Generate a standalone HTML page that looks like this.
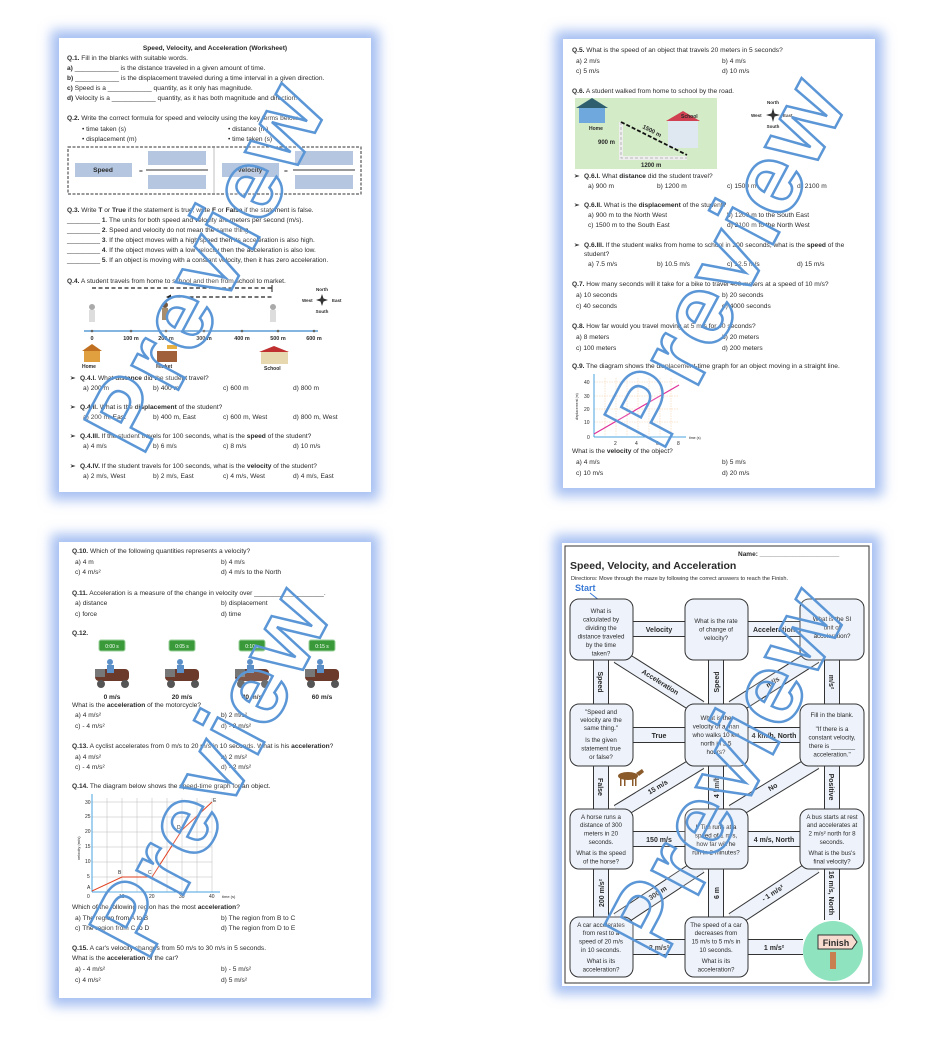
<!DOCTYPE html>
<html><head><meta charset="utf-8"><style>
html,body{margin:0;padding:0;background:#fff;}
svg{display:block;}
text{font-family:"Liberation Sans",sans-serif;fill:#2a2a2a;}
.t{font-size:6.6px;}
.b{font-weight:bold;}
.m{font-size:6.2px;text-anchor:middle;}
.ml{font-size:7px;font-weight:bold;text-anchor:middle;}
.wm{font-family:"Liberation Sans",sans-serif;font-weight:bold;font-size:100px;fill:rgba(255,255,255,0.15);stroke:#5b96d6;stroke-width:2.5px;letter-spacing:3px;text-anchor:middle;}
</style></head><body>
<svg width="938" height="1038" viewBox="0 0 938 1038" xmlns="http://www.w3.org/2000/svg">
<defs><filter id="g" x="-20%" y="-20%" width="140%" height="140%"><feGaussianBlur stdDeviation="6"/></filter></defs>
<rect x="51" y="30" width="328" height="470" fill="#a6bff2" filter="url(#g)"/>
<rect x="555" y="31" width="328" height="465" fill="#a6bff2" filter="url(#g)"/>
<rect x="51" y="534" width="328" height="472" fill="#a6bff2" filter="url(#g)"/>
<rect x="554" y="535" width="326" height="459" fill="#a6bff2" filter="url(#g)"/>
<rect x="59" y="38" width="312" height="454" fill="#fff"/>
<rect x="563" y="39" width="312" height="449" fill="#fff"/>
<rect x="59" y="542" width="312" height="456" fill="#fff"/>
<rect x="562" y="543" width="310" height="443" fill="#fff"/>

<!-- PAGE 1 -->
<text x="215" y="50" class="t b" text-anchor="middle">Speed, Velocity, and Acceleration (Worksheet)</text>
<text x="67" y="60" class="t"><tspan class="b">Q.1.</tspan> Fill in the blanks with suitable words.</text>
<text x="67" y="70" class="t"><tspan class="b">a)</tspan> ____________ is the distance traveled in a given amount of time.</text>
<text x="67" y="80" class="t"><tspan class="b">b)</tspan> ____________ is the displacement traveled during a time interval in a given direction.</text>
<text x="67" y="90" class="t"><tspan class="b">c)</tspan> Speed is a ____________ quantity, as it only has magnitude.</text>
<text x="67" y="100" class="t"><tspan class="b">d)</tspan> Velocity is a ____________ quantity, as it has both magnitude and direction.</text>
<text x="67" y="120" class="t"><tspan class="b">Q.2.</tspan>  Write the correct formula for speed and velocity using the key terms below.</text>
<text x="82" y="131" class="t">•   time taken (s)</text><text x="228" y="131" class="t">•   distance (m)</text>
<text x="82" y="141" class="t">•   displacement (m)</text><text x="228" y="141" class="t">•   time taken (s)</text>
<rect x="68" y="147" width="293" height="47" fill="none" stroke="#333" stroke-dasharray="3,1.5"/>
<line x1="214" y1="147" x2="214" y2="194" stroke="#999" stroke-width="0.6"/>
<rect x="75" y="163" width="57" height="14" fill="#b4c6e0"/><text x="103" y="172" class="t b" text-anchor="middle">Speed</text>
<text x="139" y="173" class="t">=</text>
<rect x="148" y="151" width="58" height="14" fill="#b4c6e0"/><line x1="146" y1="170" x2="208" y2="170" stroke="#333"/><rect x="148" y="175" width="58" height="14" fill="#b4c6e0"/>
<rect x="222" y="163" width="57" height="14" fill="#b4c6e0"/><text x="250" y="172" class="t b" text-anchor="middle">Velocity</text>
<text x="284" y="173" class="t">=</text>
<rect x="295" y="151" width="58" height="14" fill="#b4c6e0"/><line x1="293" y1="170" x2="355" y2="170" stroke="#333"/><rect x="295" y="175" width="58" height="14" fill="#b4c6e0"/>
<text x="67" y="212" class="t"><tspan class="b">Q.3.</tspan> Write <tspan class="b">T</tspan> or <tspan class="b">True</tspan> if the statement is true; write <tspan class="b">F</tspan> or <tspan class="b">False</tspan> if the statement is false.</text>
<text x="67" y="222" class="t">_________ <tspan class="b">1</tspan>. The units for both speed and velocity are meters per second (m/s).</text>
<text x="67" y="232" class="t">_________ <tspan class="b">2</tspan>. Speed and velocity do not mean the same thing.</text>
<text x="67" y="242" class="t">_________ <tspan class="b">3</tspan>. If the object moves with a high speed then its acceleration is also high.</text>
<text x="67" y="252" class="t">_________ <tspan class="b">4</tspan>. If the object moves with a low velocity then the acceleration is also low.</text>
<text x="67" y="262" class="t">_________ <tspan class="b">5</tspan>. If an object is moving with a constant velocity, then it has zero acceleration.</text>
<text x="67" y="283" class="t"><tspan class="b">Q.4.</tspan> A student travels from home to school and then from school to market.</text>
<line x1="92" y1="288" x2="272" y2="288" stroke="#222" stroke-width="1.3" stroke-dasharray="4,2.5"/>
<line x1="272" y1="285" x2="272" y2="292" stroke="#222"/>
<line x1="170" y1="297" x2="272" y2="297" stroke="#222" stroke-width="1.3" stroke-dasharray="4,2.5"/>
<path d="M166 297 l5 -2.5 v5z" fill="#222"/>
<line x1="84" y1="331" x2="318" y2="331" stroke="#5b9bd5" stroke-width="1.6"/>
<g fill="#666">
<circle cx="92" cy="331" r="1.3"/><circle cx="131" cy="331" r="1.3"/><circle cx="166" cy="331" r="1.3"/><circle cx="204" cy="331" r="1.3"/><circle cx="242" cy="331" r="1.3"/><circle cx="278" cy="331" r="1.3"/><circle cx="314" cy="331" r="1.3"/></g>
<g class="b"><text x="92" y="340" text-anchor="middle" font-size="5.5">0</text><text x="131" y="340" text-anchor="middle" font-size="5.5">100 m</text><text x="166" y="340" text-anchor="middle" font-size="5.5">200 m</text><text x="204" y="340" text-anchor="middle" font-size="5.5">300 m</text><text x="242" y="340" text-anchor="middle" font-size="5.5">400 m</text><text x="278" y="340" text-anchor="middle" font-size="5.5">500 m</text><text x="314" y="340" text-anchor="middle" font-size="5.5">600 m</text></g>
<g><circle cx="92" cy="307" r="3" fill="#aaa"/><rect x="89" y="310" width="6" height="12" fill="#ddd"/>
<circle cx="165" cy="305" r="3" fill="#5a3a20"/><rect x="162" y="308" width="6" height="12" fill="#9a7a50"/>
<circle cx="273" cy="307" r="3" fill="#aaa"/><rect x="270" y="310" width="6" height="12" fill="#ddd"/></g>
<rect x="84" y="350" width="16" height="12" fill="#e0a040"/><path d="M82 351 l10 -7 l10 7z" fill="#c07020"/>
<rect x="157" y="351" width="20" height="11" fill="#a0603a"/><rect x="167" y="345" width="10" height="4" fill="#e8b040"/>
<rect x="261" y="351" width="27" height="13" fill="#e8d8b0"/><path d="M259 352 l15 -6 l15 6z" fill="#c03030"/>
<text x="82" y="368" class="b" font-size="5">Home</text><text x="156" y="368" class="b" font-size="5">Market</text><text x="264" y="370" class="b" font-size="5">School</text>
<text x="322" y="291" font-size="4.5" class="b" text-anchor="middle">North</text><text x="322" y="313" font-size="4.5" class="b" text-anchor="middle">South</text>
<text x="302" y="302" font-size="4.5" class="b">West</text><text x="332" y="302" font-size="4.5" class="b">East</text>
<path d="M322 294 L324 300 L322 306 L320 300Z M316 300 L322 298 L328 300 L322 302Z" fill="#333"/>
<text x="70" y="380" class="t b">➢</text><text x="80" y="380" class="t"><tspan class="b">Q.4.I.</tspan> What <tspan class="b">distance</tspan> did the student travel?</text>
<text x="83" y="390" class="t">a) 200 m</text><text x="153" y="390" class="t">b) 400 m</text><text x="223" y="390" class="t">c) 600 m</text><text x="293" y="390" class="t">d) 800 m</text>
<text x="70" y="409" class="t b">➢</text><text x="80" y="409" class="t"><tspan class="b">Q.4.II.</tspan> What is the <tspan class="b">displacement</tspan> of the student?</text>
<text x="83" y="419" class="t">a) 200 m, East</text><text x="153" y="419" class="t">b) 400 m, East</text><text x="223" y="419" class="t">c) 600 m, West</text><text x="293" y="419" class="t">d) 800 m, West</text>
<text x="70" y="438" class="t b">➢</text><text x="80" y="438" class="t"><tspan class="b">Q.4.III.</tspan> If the student travels for 100 seconds, what is the <tspan class="b">speed</tspan> of the student?</text>
<text x="83" y="448" class="t">a) 4 m/s</text><text x="153" y="448" class="t">b) 6 m/s</text><text x="223" y="448" class="t">c) 8 m/s</text><text x="293" y="448" class="t">d) 10 m/s</text>
<text x="70" y="468" class="t b">➢</text><text x="80" y="468" class="t"><tspan class="b">Q.4.IV.</tspan> If the student travels for 100 seconds, what is the <tspan class="b">velocity</tspan> of the student?</text>
<text x="83" y="478" class="t">a) 2 m/s, West</text><text x="153" y="478" class="t">b) 2 m/s, East</text><text x="223" y="478" class="t">c) 4 m/s, West</text><text x="293" y="478" class="t">d) 4 m/s, East</text>

<!-- PAGE 2 -->
<text x="572" y="52" class="t"><tspan class="b">Q.5.</tspan> What is the speed of an object that travels 20 meters in 5 seconds?</text>
<text x="576" y="63" class="t">a) 2 m/s</text><text x="722" y="63" class="t">b) 4 m/s</text>
<text x="576" y="73" class="t">c) 5 m/s</text><text x="722" y="73" class="t">d) 10 m/s</text>
<text x="572" y="93" class="t"><tspan class="b">Q.6.</tspan> A student walked from home to school by the road.</text>
<rect x="575" y="98" width="142" height="71" fill="#d3ebc6"/>
<rect x="579" y="106" width="26" height="17" fill="#6fa8dc"/><path d="M576 108 l16 -10 l16 10z" fill="#2f5f6f"/>
<rect x="668" y="120" width="30" height="28" fill="#dfe8f0"/><path d="M666 121 l17 -10 l17 10z" fill="#d04050"/>
<path d="M621 122 V158 H687" fill="none" stroke="#eee" stroke-width="4"/>
<path d="M621 122 V158 H687" fill="none" stroke="#aaa" stroke-width="0.8" stroke-dasharray="3,2"/>
<line x1="621" y1="122" x2="687" y2="155" stroke="#111" stroke-width="1.8" stroke-dasharray="4,2"/>
<text x="681" y="118" font-size="5" class="b">School</text><text x="589" y="130" font-size="5" class="b">Home</text>
<text x="598" y="144" font-size="6" class="b">900 m</text><text x="641" y="167" font-size="6" class="b">1200 m</text>
<text x="642" y="128" font-size="6" class="b" transform="rotate(27 642 128)">1500 m</text>
<text x="773" y="104" font-size="4.5" class="b" text-anchor="middle">North</text><text x="773" y="128" font-size="4.5" class="b" text-anchor="middle">South</text>
<text x="751" y="117" font-size="4.5" class="b">West</text><text x="783" y="117" font-size="4.5" class="b">East</text>
<path d="M773 108 L775 115 L773 122 L771 115Z M766 115 L773 113 L780 115 L773 117Z" fill="#333"/>
<text x="574" y="178" class="t b">➢</text><text x="584" y="178" class="t"><tspan class="b">Q.6.I.</tspan> What <tspan class="b">distance</tspan> did the student travel?</text>
<text x="588" y="188" class="t">a) 900 m</text><text x="657" y="188" class="t">b) 1200 m</text><text x="727" y="188" class="t">c) 1500 m</text><text x="797" y="188" class="t">d) 2100 m</text>
<text x="574" y="207" class="t b">➢</text><text x="584" y="207" class="t"><tspan class="b">Q.6.II.</tspan> What is the <tspan class="b">displacement</tspan> of the student?</text>
<text x="588" y="217" class="t">a) 900 m to the North West</text><text x="727" y="217" class="t">b) 1200 m to the South East</text>
<text x="588" y="227" class="t">c) 1500 m to the South East</text><text x="727" y="227" class="t">d) 2100 m to the North West</text>
<text x="574" y="247" class="t b">➢</text><text x="584" y="247" class="t"><tspan class="b">Q.6.III.</tspan> If the student walks from home to school in 200 seconds, what is the <tspan class="b">speed</tspan> of the</text>
<text x="584" y="256" class="t">student?</text>
<text x="588" y="266" class="t">a) 7.5 m/s</text><text x="657" y="266" class="t">b) 10.5 m/s</text><text x="727" y="266" class="t">c) 12.5 m/s</text><text x="797" y="266" class="t">d) 15 m/s</text>
<text x="572" y="286" class="t"><tspan class="b">Q.7.</tspan> How many seconds will it take for a bike to travel 400 meters at a speed of 10 m/s?</text>
<text x="576" y="297" class="t">a) 10 seconds</text><text x="722" y="297" class="t">b) 20 seconds</text>
<text x="576" y="308" class="t">c) 40 seconds</text><text x="722" y="308" class="t">d) 4000 seconds</text>
<text x="572" y="328" class="t"><tspan class="b">Q.8.</tspan> How far would you travel moving at 5 m/s for 40 seconds?</text>
<text x="576" y="339" class="t">a) 8 meters</text><text x="722" y="339" class="t">b) 20 meters</text>
<text x="576" y="350" class="t">c) 100 meters</text><text x="722" y="350" class="t">d) 200 meters</text>
<text x="572" y="368" class="t"><tspan class="b">Q.9.</tspan> The diagram shows the displacement-time graph for an object moving in a straight line.</text>
<g stroke="#f3c9a0" stroke-width="0.5" stroke-dasharray="1.5,1">
<line x1="594" y1="382" x2="679" y2="382"/><line x1="594" y1="396" x2="679" y2="396"/><line x1="594" y1="409" x2="679" y2="409"/><line x1="594" y1="422" x2="679" y2="422"/>
<line x1="605" y1="378" x2="605" y2="436"/><line x1="616" y1="378" x2="616" y2="436"/><line x1="627" y1="378" x2="627" y2="436"/><line x1="638" y1="378" x2="638" y2="436"/><line x1="649" y1="378" x2="649" y2="436"/><line x1="660" y1="378" x2="660" y2="436"/><line x1="671" y1="378" x2="671" y2="436"/></g>
<line x1="594" y1="437" x2="686" y2="437" stroke="#4aa3e0" stroke-width="1"/><line x1="594" y1="374" x2="594" y2="437" stroke="#4aa3e0" stroke-width="1"/>
<line x1="594" y1="434" x2="679" y2="385" stroke="#e0309a" stroke-width="1.2"/>
<g font-size="5"><text x="584" y="384">40</text><text x="584" y="398">30</text><text x="584" y="411">20</text><text x="584" y="424">10</text><text x="587" y="439">0</text><text x="614" y="445">2</text><text x="635" y="445">4</text><text x="656" y="445">6</text><text x="677" y="445">8</text><text x="689" y="439" font-size="3.5">time (s)</text></g>
<text x="578" y="420" font-size="3.5" transform="rotate(-90 578 420)">displacement (m)</text>
<text x="572" y="453" class="t">What is the <tspan class="b">velocity</tspan> of the object?</text>
<text x="576" y="464" class="t">a) 4 m/s</text><text x="722" y="464" class="t">b) 5 m/s</text>
<text x="576" y="475" class="t">c) 10 m/s</text><text x="722" y="475" class="t">d) 20 m/s</text>

<!-- PAGE 3 -->
<text x="72" y="553" class="t"><tspan class="b">Q.10.</tspan> Which of the following quantities represents a velocity?</text>
<text x="75" y="564" class="t">a) 4 m</text><text x="221" y="564" class="t">b) 4 m/s</text>
<text x="75" y="574" class="t">c) 4 m/s²</text><text x="221" y="574" class="t">d) 4 m/s to the North</text>
<text x="72" y="595" class="t"><tspan class="b">Q.11.</tspan> Acceleration is a measure of the change in velocity over ___________________.</text>
<text x="75" y="605" class="t">a) distance</text><text x="221" y="605" class="t">b) displacement</text>
<text x="75" y="616" class="t">c) force</text><text x="221" y="616" class="t">d) time</text>
<text x="72" y="635" class="t b">Q.12.</text>
<g>
<rect x="99" y="640" width="26" height="11" rx="2" fill="#3a9a3a" stroke="#9ad09a"/><text x="112" y="648" font-size="5" style="fill:#fff" text-anchor="middle">0:00 s</text>
<rect x="169" y="640" width="26" height="11" rx="2" fill="#3a9a3a" stroke="#9ad09a"/><text x="182" y="648" font-size="5" style="fill:#fff" text-anchor="middle">0:05 s</text>
<rect x="239" y="640" width="26" height="11" rx="2" fill="#3a9a3a" stroke="#9ad09a"/><text x="252" y="648" font-size="5" style="fill:#fff" text-anchor="middle">0:10 s</text>
<rect x="309" y="640" width="26" height="11" rx="2" fill="#3a9a3a" stroke="#9ad09a"/><text x="322" y="648" font-size="5" style="fill:#fff" text-anchor="middle">0:15 s</text>
</g>
<g fill="#6b3a2a">
<rect x="95" y="669" width="34" height="12" rx="4"/><rect x="95" y="669" width="10" height="8" fill="#777"/><circle cx="101" cy="684" r="4" fill="#555"/><circle cx="125" cy="684" r="4" fill="#555"/><circle cx="110" cy="662" r="3" fill="#5b8fc8"/><rect x="107" y="665" width="7" height="8" fill="#5b8fc8"/>
<rect x="165" y="669" width="34" height="12" rx="4"/><rect x="165" y="669" width="10" height="8" fill="#777"/><circle cx="171" cy="684" r="4" fill="#555"/><circle cx="195" cy="684" r="4" fill="#555"/><circle cx="180" cy="662" r="3" fill="#5b8fc8"/><rect x="177" y="665" width="7" height="8" fill="#5b8fc8"/>
<rect x="235" y="669" width="34" height="12" rx="4"/><rect x="235" y="669" width="10" height="8" fill="#777"/><circle cx="241" cy="684" r="4" fill="#555"/><circle cx="265" cy="684" r="4" fill="#555"/><circle cx="250" cy="662" r="3" fill="#5b8fc8"/><rect x="247" y="665" width="7" height="8" fill="#5b8fc8"/>
<rect x="305" y="669" width="34" height="12" rx="4"/><rect x="305" y="669" width="10" height="8" fill="#777"/><circle cx="311" cy="684" r="4" fill="#555"/><circle cx="335" cy="684" r="4" fill="#555"/><circle cx="320" cy="662" r="3" fill="#5b8fc8"/><rect x="317" y="665" width="7" height="8" fill="#5b8fc8"/>
</g>
<text x="112" y="699" class="t b" text-anchor="middle">0 m/s</text><text x="182" y="699" class="t b" text-anchor="middle">20 m/s</text><text x="252" y="699" class="t b" text-anchor="middle">40 m/s</text><text x="322" y="699" class="t b" text-anchor="middle">60 m/s</text>
<text x="72" y="707" class="t">What is the <tspan class="b">acceleration</tspan> of the motorcycle?</text>
<text x="75" y="717" class="t">a) 4 m/s²</text><text x="221" y="717" class="t">b) 2 m/s²</text>
<text x="75" y="728" class="t">c) - 4 m/s²</text><text x="221" y="728" class="t">d) - 2 m/s²</text>
<text x="72" y="748" class="t"><tspan class="b">Q.13.</tspan> A cyclist accelerates from 0 m/s to 20 m/s in 10 seconds. What is his <tspan class="b">acceleration</tspan>?</text>
<text x="75" y="759" class="t">a) 4 m/s²</text><text x="221" y="759" class="t">b) 2 m/s²</text>
<text x="75" y="769" class="t">c) - 4 m/s²</text><text x="221" y="769" class="t">d) - 2 m/s²</text>
<text x="72" y="788" class="t"><tspan class="b">Q.14.</tspan> The diagram below shows the speed-time graph for an object.</text>
<g stroke="#bbb" stroke-width="0.5">
<line x1="92" y1="802" x2="212" y2="802"/><line x1="92" y1="817" x2="212" y2="817"/><line x1="92" y1="832" x2="212" y2="832"/><line x1="92" y1="847" x2="212" y2="847"/><line x1="92" y1="862" x2="212" y2="862"/><line x1="92" y1="877" x2="212" y2="877"/>
<line x1="107" y1="798" x2="107" y2="892"/><line x1="122" y1="798" x2="122" y2="892"/><line x1="137" y1="798" x2="137" y2="892"/><line x1="152" y1="798" x2="152" y2="892"/><line x1="167" y1="798" x2="167" y2="892"/><line x1="182" y1="798" x2="182" y2="892"/><line x1="197" y1="798" x2="197" y2="892"/><line x1="212" y1="798" x2="212" y2="892"/></g>
<line x1="92" y1="892" x2="220" y2="892" stroke="#4aa3e0"/><line x1="92" y1="794" x2="92" y2="892" stroke="#4aa3e0"/>
<polyline points="92,891 122,877 152,877 182,830 212,802" fill="none" stroke="#e04020" stroke-width="1"/>
<g font-size="5"><text x="85" y="804">30</text><text x="85" y="818">25</text><text x="85" y="833">20</text><text x="85" y="848">15</text><text x="85" y="863">10</text><text x="87" y="878">5</text><text x="87" y="898">0</text><text x="119" y="898">10</text><text x="149" y="898">20</text><text x="179" y="898">30</text><text x="209" y="898">40</text><text x="222" y="898" font-size="4">time (s)</text>
<text x="87" y="889">A</text><text x="118" y="874">B</text><text x="148" y="874">C</text><text x="177" y="829">D</text><text x="213" y="802">E</text></g>
<text x="80" y="860" font-size="4" transform="rotate(-90 80 860)">velocity (m/s)</text>
<text x="72" y="909" class="t">Which of the following region has the most <tspan class="b">acceleration</tspan>?</text>
<text x="75" y="920" class="t">a) The region from A to B</text><text x="221" y="920" class="t">b) The region from B to C</text>
<text x="75" y="930" class="t">c) The region from C to D</text><text x="221" y="930" class="t">d) The region from D to E</text>
<text x="72" y="950" class="t"><tspan class="b">Q.15.</tspan> A car's velocity changes from 50 m/s to 30 m/s in 5 seconds.</text>
<text x="72" y="960" class="t">What is the <tspan class="b">acceleration</tspan> of the car?</text>
<text x="75" y="971" class="t">a) - 4 m/s²</text><text x="221" y="971" class="t">b) - 5 m/s²</text>
<text x="75" y="982" class="t">c) 4 m/s²</text><text x="221" y="982" class="t">d) 5 m/s²</text>

<!-- PAGE 4 maze -->
<rect x="565" y="546" width="304" height="437" fill="none" stroke="#333" stroke-width="1"/>
<text x="738" y="556" font-size="6.5" class="b">Name: ______________________</text>
<text x="570" y="569" font-size="10.5" class="b">Speed, Velocity, and Acceleration</text>
<text x="571" y="580" font-size="5.6">Directions: Move through the maze by following the correct answers to reach the Finish.</text>
<text x="575" y="591" font-size="9" class="b" style="fill:#3a7ad6">Start</text>
<path d="M590 593 L604 604" stroke="#3a7ad6" stroke-width="1"/><path d="M606 606 l-5 -1 l2 -3z" fill="#3a7ad6"/>
<g stroke-linecap="butt">
<g stroke="#333" stroke-width="16">
<line x1="630" y1="629" x2="688" y2="629"/><line x1="745" y1="629" x2="803" y2="629"/>
<line x1="630" y1="735" x2="688" y2="735"/><line x1="745" y1="735" x2="803" y2="735"/>
<line x1="630" y1="839" x2="688" y2="839"/><line x1="745" y1="839" x2="803" y2="839"/>
<line x1="630" y1="947" x2="688" y2="947"/><line x1="745" y1="947" x2="803" y2="947"/>
<line x1="601" y1="657" x2="601" y2="707"/><line x1="601" y1="763" x2="601" y2="812"/><line x1="601" y1="866" x2="601" y2="920"/>
<line x1="716" y1="657" x2="716" y2="707"/><line x1="716" y1="763" x2="716" y2="812"/><line x1="716" y1="866" x2="716" y2="920"/>
<line x1="832" y1="657" x2="832" y2="707"/><line x1="832" y1="763" x2="832" y2="812"/><line x1="832" y1="866" x2="832" y2="920"/>
<line x1="618" y1="656" x2="700" y2="708"/><line x1="733" y1="708" x2="815" y2="656"/>
<line x1="618" y1="812" x2="700" y2="762"/><line x1="733" y1="812" x2="815" y2="762"/>
<line x1="618" y1="920" x2="700" y2="866"/><line x1="733" y1="920" x2="815" y2="866"/>
</g>
<g stroke="#eef3fb" stroke-width="14">
<line x1="630" y1="629" x2="688" y2="629"/><line x1="745" y1="629" x2="803" y2="629"/>
<line x1="630" y1="735" x2="688" y2="735"/><line x1="745" y1="735" x2="803" y2="735"/>
<line x1="630" y1="839" x2="688" y2="839"/><line x1="745" y1="839" x2="803" y2="839"/>
<line x1="630" y1="947" x2="688" y2="947"/><line x1="745" y1="947" x2="803" y2="947"/>
<line x1="601" y1="657" x2="601" y2="707"/><line x1="601" y1="763" x2="601" y2="812"/><line x1="601" y1="866" x2="601" y2="920"/>
<line x1="716" y1="657" x2="716" y2="707"/><line x1="716" y1="763" x2="716" y2="812"/><line x1="716" y1="866" x2="716" y2="920"/>
<line x1="832" y1="657" x2="832" y2="707"/><line x1="832" y1="763" x2="832" y2="812"/><line x1="832" y1="866" x2="832" y2="920"/>
<line x1="618" y1="656" x2="700" y2="708"/><line x1="733" y1="708" x2="815" y2="656"/>
<line x1="618" y1="812" x2="700" y2="762"/><line x1="733" y1="812" x2="815" y2="762"/>
<line x1="618" y1="920" x2="700" y2="866"/><line x1="733" y1="920" x2="815" y2="866"/>
</g></g>
<g fill="#eef3fb" stroke="#333" stroke-width="1">
<rect x="570" y="599" width="63" height="61" rx="9"/><rect x="685" y="599" width="63" height="61" rx="9"/><rect x="800" y="599" width="64" height="61" rx="9"/>
<rect x="570" y="704" width="63" height="62" rx="9"/><rect x="685" y="704" width="63" height="62" rx="9"/><rect x="800" y="704" width="64" height="62" rx="9"/>
<rect x="570" y="809" width="63" height="60" rx="9"/><rect x="685" y="809" width="63" height="60" rx="9"/><rect x="800" y="809" width="64" height="60" rx="9"/>
<rect x="570" y="917" width="63" height="60" rx="9"/><rect x="685" y="917" width="63" height="60" rx="9"/>
</g>
<g>
<text x="601" y="613" class="m">What is</text><text x="601" y="621.5" class="m">calculated by</text><text x="601" y="630" class="m">dividing the</text><text x="601" y="638.5" class="m">distance traveled</text><text x="601" y="647" class="m">by the time</text><text x="601" y="655.5" class="m">taken?</text>
<text x="716" y="623" class="m">What is the rate</text><text x="716" y="631.5" class="m">of change of</text><text x="716" y="640" class="m">velocity?</text>
<text x="832" y="621" class="m">What is the SI</text><text x="832" y="629.5" class="m">unit of</text><text x="832" y="638" class="m">acceleration?</text>
<text x="601" y="714" class="m">"Speed and</text><text x="601" y="722" class="m">velocity are the</text><text x="601" y="730" class="m">same thing."</text><text x="601" y="742" class="m">Is the given</text><text x="601" y="750.5" class="m">statement true</text><text x="601" y="759" class="m">or false?</text>
<text x="716" y="720" class="m">What is the</text><text x="716" y="728.5" class="m">velocity of a man</text><text x="716" y="737" class="m">who walks 10 km</text><text x="716" y="745.5" class="m">north in 2.5</text><text x="716" y="754" class="m">hours?</text>
<text x="832" y="717" class="m">Fill in the blank.</text><text x="832" y="731" class="m">"If there is a</text><text x="832" y="739.5" class="m">constant velocity,</text><text x="832" y="748" class="m">there is _______</text><text x="832" y="756.5" class="m">acceleration."</text>
<text x="601" y="819" class="m">A horse runs a</text><text x="601" y="827" class="m">distance of 300</text><text x="601" y="835.5" class="m">meters in 20</text><text x="601" y="844" class="m">seconds.</text><text x="601" y="855" class="m">What is the speed</text><text x="601" y="863.5" class="m">of the horse?</text>
<text x="716" y="829" class="m">If Tim runs at a</text><text x="716" y="837.5" class="m">speed of 1 m/s,</text><text x="716" y="846" class="m">how far will he</text><text x="716" y="854.5" class="m">run in 2 minutes?</text>
<text x="832" y="819" class="m">A bus starts at rest</text><text x="832" y="827" class="m">and accelerates at</text><text x="832" y="835.5" class="m">2 m/s² north for 8</text><text x="832" y="844" class="m">seconds.</text><text x="832" y="855" class="m">What is the bus's</text><text x="832" y="863.5" class="m">final velocity?</text>
<text x="601" y="927" class="m">A car accelerates</text><text x="601" y="935" class="m">from rest to a</text><text x="601" y="943.5" class="m">speed of 20 m/s</text><text x="601" y="952" class="m">in 10 seconds.</text><text x="601" y="963" class="m">What is its</text><text x="601" y="971.5" class="m">acceleration?</text>
<text x="716" y="927" class="m">The speed of a car</text><text x="716" y="935" class="m">decreases from</text><text x="716" y="943.5" class="m">15 m/s to 5 m/s in</text><text x="716" y="952" class="m">10 seconds.</text><text x="716" y="963" class="m">What is its</text><text x="716" y="971.5" class="m">acceleration?</text>
</g>
<text x="659" y="632" class="ml">Velocity</text><text x="774" y="632" class="ml">Acceleration</text>
<text x="659" y="738" class="ml">True</text><text x="774" y="738" class="ml">4 km/h, North</text>
<text x="659" y="842" class="ml">150 m/s</text><text x="774" y="842" class="ml">4 m/s, North</text>
<text x="659" y="950" class="ml">2 m/s²</text><text x="774" y="950" class="ml">1 m/s²</text>
<text x="598" y="682" class="ml" transform="rotate(90 598 682)">Speed</text>
<text x="598" y="787" class="ml" transform="rotate(90 598 787)">False</text>
<text x="604" y="893" class="ml" transform="rotate(-90 604 893)">200 m/s²</text>
<text x="719" y="682" class="ml" transform="rotate(-90 719 682)">Speed</text>
<text x="719" y="787" class="ml" transform="rotate(-90 719 787)">4 km/h</text>
<text x="719" y="893" class="ml" transform="rotate(-90 719 893)">6 m</text>
<text x="829" y="682" class="ml" transform="rotate(90 829 682)">m/s²</text>
<text x="829" y="787" class="ml" transform="rotate(90 829 787)">Positive</text>
<text x="829" y="893" class="ml" transform="rotate(90 829 893)">16 m/s, North</text>
<text x="659" y="684" class="ml" transform="rotate(32 659 684)">Acceleration</text>
<text x="774" y="684" class="ml" transform="rotate(-32 774 684)">m²/s</text>
<text x="659" y="789" class="ml" transform="rotate(-31 659 789)">15 m/s</text>
<text x="774" y="789" class="ml" transform="rotate(-31 774 789)">No</text>
<text x="659" y="895" class="ml" transform="rotate(-33 659 895)">300 m</text>
<text x="774" y="895" class="ml" transform="rotate(-33 774 895)">- 1 m/s²</text>
<g fill="#8a5a2a"><ellipse cx="628" cy="776" rx="10" ry="4"/><path d="M636 773 l6 -4 l2 3 l-5 4z"/><rect x="620" y="778" width="1.5" height="8"/><rect x="624" y="778" width="1.5" height="8"/><rect x="632" y="778" width="1.5" height="8"/><rect x="635" y="778" width="1.5" height="8"/></g>
<circle cx="833" cy="951" r="30" fill="#8fe3bf"/>
<rect x="830" y="952" width="6" height="17" fill="#c88050"/>
<path d="M818 935 H852 L857 942 L852 949 H818Z" fill="#f8dcd0" stroke="#333" stroke-width="1"/>
<text x="836" y="946" font-size="9" class="b" text-anchor="middle">Finish</text>

<!-- watermarks -->
<text x="205" y="300" class="wm" transform="rotate(-62 205 265)">Preview</text>
<text x="725" y="295" class="wm" transform="rotate(-62 725 260)">Preview</text>
<text x="210" y="805" class="wm" transform="rotate(-62 210 770)">Preview</text>
<text x="725" y="805" class="wm" transform="rotate(-62 725 770)">Preview</text>
</svg>
</body></html>
